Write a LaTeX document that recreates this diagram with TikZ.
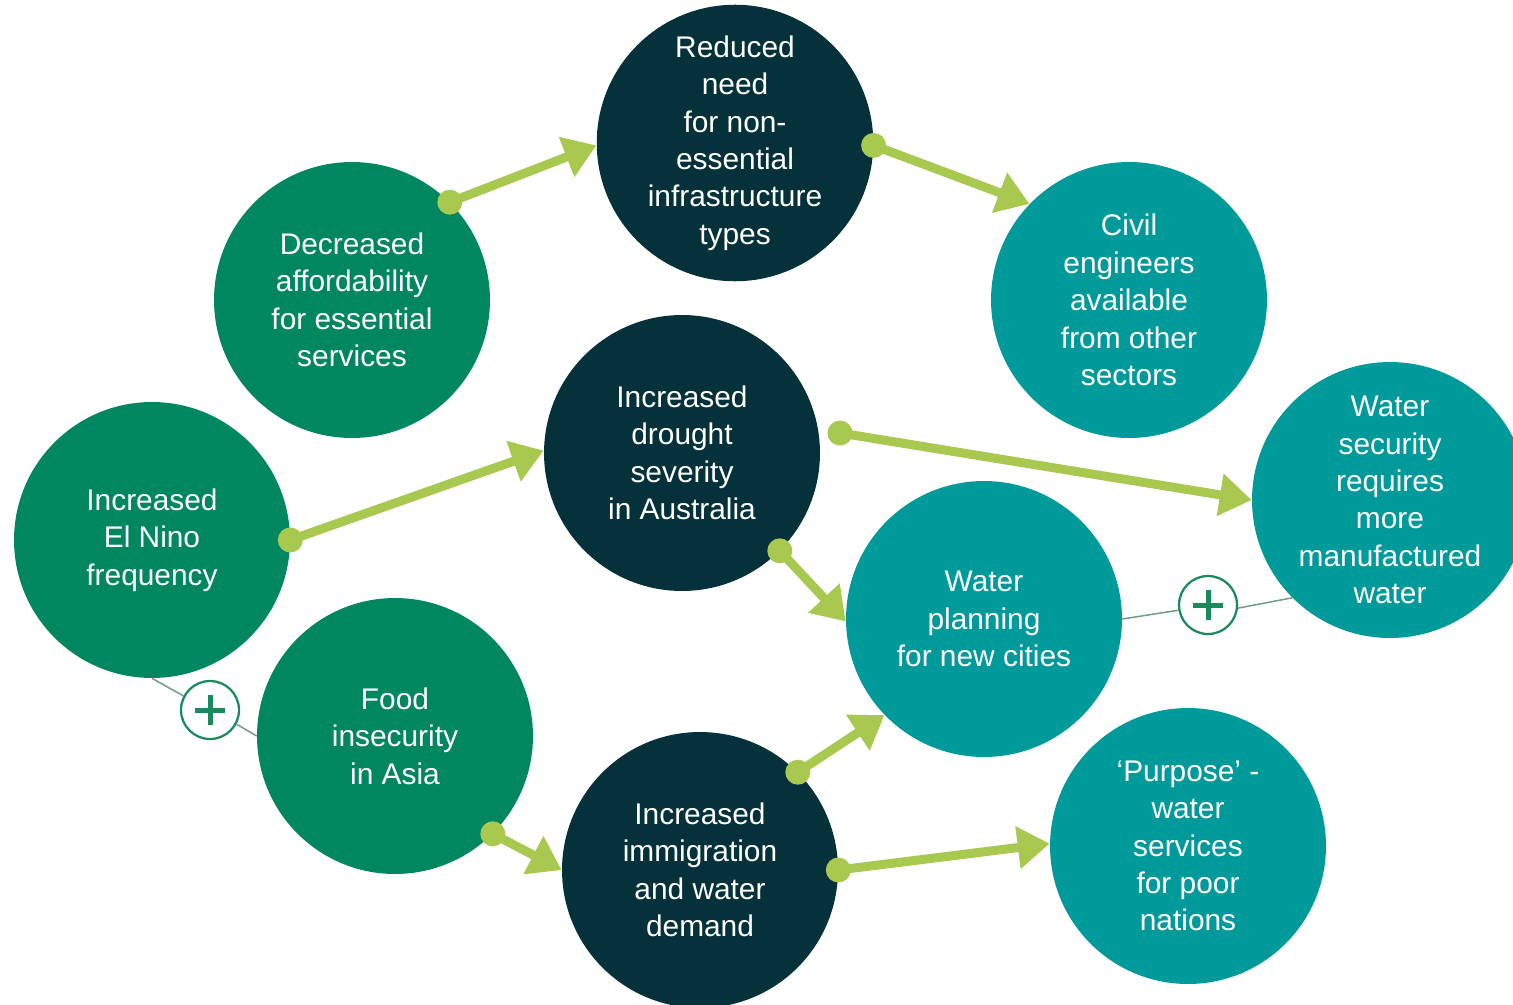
\documentclass[tikz,border=0pt]{standalone}
\usepackage{fontspec}
\setmainfont{Liberation Sans}
\usetikzlibrary{arrows.meta,calc}
\definecolor{cgreen}{HTML}{00875F}
\definecolor{cdark}{HTML}{05313A}
\definecolor{cteal}{HTML}{009A9A}
\definecolor{carrow}{HTML}{A8C84F}
\definecolor{cplus}{HTML}{1A8A5E}
\definecolor{cline}{HTML}{6E9E88}
\tikzset{
  bubble/.style={circle, minimum size=5.52cm, inner sep=0pt, text=white,
    align=center, font=\fontsize{17}{21.3}\selectfont},
  gbub/.style={bubble, fill=cgreen},
  dbub/.style={bubble, fill=cdark},
  tbub/.style={bubble, fill=cteal},
  flow/.style={draw=carrow, line width=0.18cm,
    -{Triangle[length=0.64cm,width=0.82cm]}},
  dotmark/.style={circle, fill=carrow, minimum size=0.5cm, inner sep=0pt},
  plusnode/.style={circle, draw=cplus, line width=0.045cm, fill=white,
    minimum size=1.16cm, inner sep=0pt},
  thinlink/.style={draw=cline, line width=0.03cm},
  pluslines/.style={draw=cplus, line width=0.1cm}
}
\begin{document}
\begin{tikzpicture}[x=0.02cm,y=-0.02cm]
\useasboundingbox (0,0) rectangle (1513,1004);
\clip (0,0) rectangle (1513,1004);
% circles
\node[gbub] (afford) at (352,300) {Decreased\\affordability\\for essential\\services};
\node[dbub] (reduced) at (735,143) {Reduced\\need\\for non-\\essential\\infrastructure\\types};
\node[tbub] (civil) at (1129,300) {Civil\\engineers\\available\\from other\\sectors};
\node[dbub] (drought) at (682,453) {Increased\\drought\\severity\\in Australia};
\node[gbub] (elnino) at (152,540) {Increased\\El Nino\\frequency};
\node[tbub] (security) at (1390,500) {Water\\security\\requires\\more\\manufactured\\water};
\node[tbub] (planning) at (984,619) {Water\\planning\\for new cities};
\node[gbub] (food) at (395,736) {Food\\insecurity\\in Asia};
\node[dbub] (immig) at (700,870) {Increased\\immigration\\and water\\demand};
\node[tbub] (purpose) at (1188,846) {`Purpose' -\\water\\services\\for poor\\nations};
% plus links
\node[plusnode] (plusA) at (210,710) {};
\node[plusnode] (plusB) at (1208,605) {};
\begin{scope}[on background layer/.try]
\end{scope}
\path[thinlink] (elnino.270) -- (plusA.152);
\path[thinlink] (plusA.-28) -- (food.180);
\path[thinlink] (planning.east) -- (plusB.190);
\path[thinlink] (plusB.-6) -- (security.225);
\draw[pluslines] ($(plusA)+(-15,0)$) -- ($(plusA)+(15,0)$);
\draw[pluslines] ($(plusA)+(0,-15)$) -- ($(plusA)+(0,15)$);
\draw[pluslines] ($(plusB)+(-15,0)$) -- ($(plusB)+(15,0)$);
\draw[pluslines] ($(plusB)+(0,-15)$) -- ($(plusB)+(0,15)$);
% arrow start points
\coordinate (s1) at (afford.45);
\coordinate (s2) at (reduced.-1);
\coordinate (s3) at (elnino.0);
\coordinate (s4) at (840,433);
\coordinate (s5) at (drought.-45);
\coordinate (s6) at (immig.45);
\coordinate (s7) at (food.-45);
\coordinate (s8) at (immig.0);
% arrows
\draw[flow] (s1) -- (reduced.181);
\draw[flow] (s2) -- (civil.136);
\draw[flow] (s3) -- (drought.179);
\draw[flow] (s4) -- (security.180);
\draw[flow] (s5) -- (planning.181);
\draw[flow] (s6) -- (planning.224);
\draw[flow] (s7) -- (immig.180);
\draw[flow] (s8) -- (purpose.179);
\foreach \s in {s1,s2,s3,s4,s5,s6,s7,s8}
  \node[dotmark] (d\s) at (\s) {};
\end{tikzpicture}
\end{document}
